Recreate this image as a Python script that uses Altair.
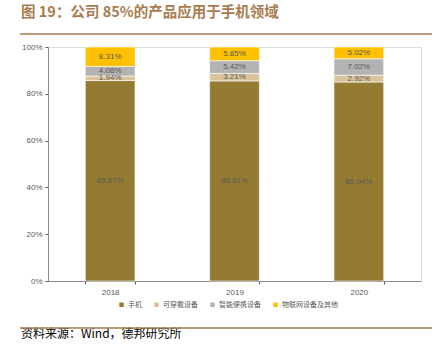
import altair as alt
import pandas as pd

years = ["2018", "2019", "2020"]
categories = ["手机", "可穿戴设备", "智能便携设备", "物联网设备及其他"]
phone = [85.67, 85.51, 85.04]
wearable = [1.94, 3.21, 2.92]
portable = [4.08, 5.42, 7.02]
iot = [8.31, 5.85, 5.02]
colors = ["#957B31", "#D9C49C", "#B3B3B3", "#FFC000"]
y_ticks = [0, 20, 40, 60, 80, 100]

series = [phone, wearable, portable, iot]
rows = []
for ci, (cat, vals) in enumerate(zip(categories, series)):
    for yi, yr in enumerate(years):
        rows.append({"year": yr, "cat": cat, "order": ci, "value": vals[yi],
                     "label": f"{vals[yi]:.2f}%"})
df = pd.DataFrame(rows)

FONT = "Liberation Sans"
CJK = "Noto Sans CJK SC"

x_enc = alt.X("year:N", sort=years, title=None,
              scale=alt.Scale(paddingInner=0.6, paddingOuter=0.3),
              axis=alt.Axis(labelAngle=0, labelFontSize=8, labelColor="#595959",
                            labelFont=FONT, domainColor="#8C8C8C", tickColor="#595959",
                            tickBand="extent", tickSize=3, labelPadding=4))

base = alt.Chart(df).transform_stack(
    stack="value", groupby=["year"], as_=["y0", "y1"],
    sort=[alt.SortField("order", order="ascending")]
)

bars = base.mark_bar(stroke="white", strokeWidth=0.6).encode(
    x=x_enc,
    y=alt.Y("y0:Q", title=None,
            scale=alt.Scale(domain=[0, 100], nice=False),
            axis=alt.Axis(values=y_ticks, labelExpr="datum.value + '%'", grid=False,
                          labelFontSize=8, labelColor="#595959", labelFont=FONT,
                          domainColor="#8C8C8C", tickColor="#595959", tickSize=3,
                          labelPadding=3)),
    y2="y1:Q",
    color=alt.Color("cat:N", sort=categories,
                    scale=alt.Scale(domain=categories, range=colors),
                    legend=alt.Legend(title=None, orient="none", direction="horizontal",
                                      legendX=70, legendY=254, symbolType="square",
                                      symbolSize=20, symbolStrokeWidth=0,
                                      labelFontSize=7, labelColor="#595959",
                                      labelFont=CJK, columnPadding=11,
                                      labelOffset=3)),
    order=alt.Order("order:Q"),
)

labels = base.transform_calculate(mid="(datum.y0 + datum.y1) / 2").mark_text(
    fontSize=8, color="#595959", font=FONT
).encode(
    x=alt.X("year:N", sort=years),
    y=alt.Y("mid:Q"),
    text="label:N",
)

title = alt.Chart(pd.DataFrame({"t": ["图 19：公司 85%的产品应用于手机领域"]})).mark_text(
    align="left", baseline="middle", fontSize=14.5, fontWeight="bold",
    font=CJK, color="#A97C50"
).encode(x=alt.value(-27), y=alt.value(-34), text="t:N")

source = alt.Chart(pd.DataFrame({"t": ["资料来源：Wind，德邦研究所"]})).mark_text(
    align="left", baseline="middle", fontSize=12, font=CJK, color="#000000"
).encode(x=alt.value(-27), y=alt.value(287), text="t:N")

top_line = alt.Chart(pd.DataFrame({"a": [0]})).mark_rule(
    color="#A97C50", strokeWidth=1.5
).encode(x=alt.value(-28), x2=alt.value(384), y=alt.value(-13))

bottom_line = alt.Chart(pd.DataFrame({"a": [0]})).mark_rule(
    color="#A97C50", strokeWidth=1.5
).encode(x=alt.value(-28), x2=alt.value(384), y=alt.value(281))

chart = alt.layer(bars, labels, title, source, top_line, bottom_line).resolve_scale(
    x="shared", y="shared"
).properties(
    width=373, height=234,
    autosize=alt.AutoSizeParams(type="none"),
    padding={"left": 48, "top": 47, "right": 21, "bottom": 70},
).configure_view(stroke=None).configure(background="white")

chart.save("out.html", embed_options={"renderer": "svg", "actions": False})
